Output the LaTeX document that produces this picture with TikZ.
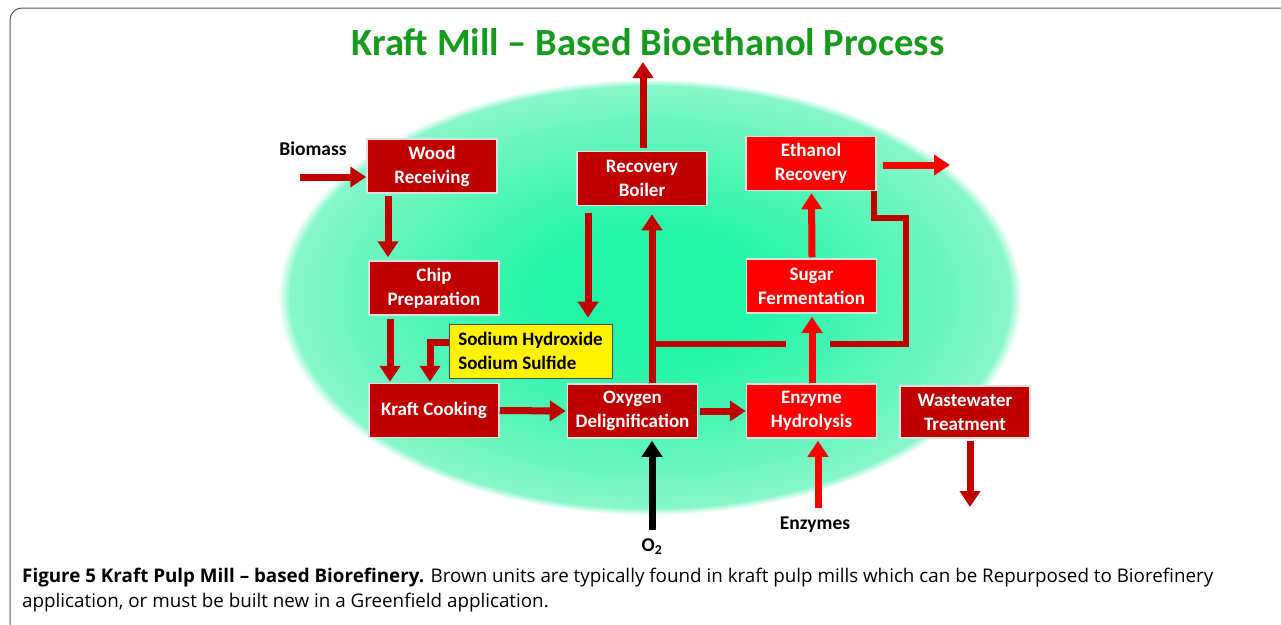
\documentclass[tikz,border=0pt]{standalone}
\usepackage{fontspec}
\setmainfont{Carlito}
\newfontfamily\capfont[Ligatures=TeX]{Open Sans}
\usetikzlibrary{arrows.meta}
\definecolor{dred}{RGB}{192,0,0}
\definecolor{bred}{RGB}{255,0,0}
\definecolor{ttl}{RGB}{22,155,30}
\definecolor{gc}{RGB}{32,245,168}
\definecolor{gm}{RGB}{90,245,186}
\definecolor{ge}{RGB}{135,246,203}
\definecolor{frame}{RGB}{90,90,90}
\pgfdeclareradialshading{glow}{\pgfpoint{0bp}{0bp}}{color(0bp)=(gc); color(7bp)=(gc); color(17bp)=(gm); color(24.2bp)=(ge); color(25bp)=(white); color(50bp)=(white)}
\tikzset{
  unit/.style={draw=white!88!black, line width=1.5pt, minimum width=130pt, minimum height=54pt,
    align=center, text=white, font=\bfseries\fontsize{19}{24}\selectfont, inner sep=0pt},
  brownunit/.style={unit, fill=dred},
  redunit/.style={unit, fill=bred},
  flow/.style={line width=7pt, -{Triangle[width=20pt,length=16pt]}},
  pipe/.style={line width=6pt},
  lbl/.style={font=\bfseries\fontsize{19.5}{22}\selectfont, text=black, inner sep=0pt}
}
\begin{document}
\begin{tikzpicture}[x=1pt,y=-1pt]
\useasboundingbox (0,0) rectangle (1281,624);
\begin{scope}
\clip (0,0) rectangle (1281,624);
\fill[white] (0,0) rectangle (1281,624);
\draw[frame, line width=1pt, rounded corners=12pt] (10,8) rectangle (1300,660);
\end{scope}
% glow
\shade[shading=glow] (650,297) ellipse[x radius=372, y radius=218];
% title
\node[font=\bfseries\fontsize{38.5}{44}\selectfont, text=ttl] (title) at (648,42) {Kraft Mill – Based Bioethanol Process};
% units
\node[brownunit] (wood) at (432,166) {Wood\\Receiving};
\node[brownunit] (boiler) at (642,178.5) {Recovery\\Boiler};
\node[redunit] (ethanol) at (811,163.5) {Ethanol\\Recovery};
\node[brownunit] (chip) at (434,288) {Chip\\Preparation};
\node[redunit] (sugar) at (811.5,286) {Sugar\\Fermentation};
\node[draw=black!70, line width=1pt, fill=yellow, minimum width=163pt, minimum height=54pt, inner sep=0pt,
  align=left, font=\bfseries\fontsize{19}{24}\selectfont] (chem) at (530.5,351) {Sodium Hydroxide\\Sodium Sulfide};
\node[brownunit] (kraft) at (434,410.5) {Kraft Cooking};
\node[brownunit] (oxy) at (632.5,411) {Oxygen\\Delignification};
\node[redunit] (enz) at (811.5,411) {Enzyme\\Hydrolysis};
\node[brownunit, minimum height=52pt] (ww) at (965,412) {Wastewater\\Treatment};
% labels
\node[lbl] (biomass) at (313,149) {Biomass};
\node[lbl] (o2) at (652,547) {O\textsubscript{2}};
\node[lbl] (enzl) at (815,525) {Enzymes};
% free-end coordinates
\coordinate (bm) at (300,177);
\coordinate (stack) at (643,62);
\coordinate (etout) at (950,165);
\coordinate (wwout) at (970,507);
\coordinate (j1) at (652,344);
\coordinate (j2) at (786,344);
\coordinate (o2s) at (652,530);
\coordinate (enzs) at (818,508);
\coordinate (l1) at (874,191);
\coordinate (l2) at (874,218);
\coordinate (l3) at (906,218);
\coordinate (l4) at (906,344);
\coordinate (l5) at (830,344);
% arrows
\draw[flow, dred] (bm) -- (bm -| wood.west);
\draw[flow, dred] ([shift={(-44,2)}]wood.south) -- ([shift={(-46,-3)}]chip.north);
\draw[flow, dred] ([shift={(-44,3)}]chip.south) -- ([shift={(-44,-1)}]kraft.north);
\draw[flow, dred] ([shift={(0,-9)}]chem.west) -| ([shift={(-4,-1)}]kraft.north);
\draw[flow, dred] (kraft.east) -- ([shift={(-1,0)}]oxy.west);
\draw[flow, dred] ([shift={(2,0)}]oxy.east) -- (enz.west);
\draw[flow, black] (o2s) -- ([shift={(19.5,2)}]oxy.south);
\draw[flow, bred] (enzs) -- ([shift={(6.5,2)}]enz.south);
\draw[flow, dred] ([shift={(1,-3)}]boiler.north) -- (stack);
\draw[flow, dred] ([shift={(-54,7)}]boiler.south) -- ([shift={(57.5,-6)}]chem.north);
\draw[flow, dred] ([shift={(19.5,0)}]oxy.north) -- ([shift={(10,8)}]boiler.south);
\draw[pipe, dred] ([shift={(-3,0)}]j1) -- (j2);
\draw[flow, bred] ([shift={(0.5,0)}]enz.north) -- ([shift={(0.5,3)}]sugar.south);
\draw[flow, bred] ([shift={(0.5,-1)}]sugar.north) -- ([shift={(0.5,2)}]ethanol.south);
\draw[flow, bred] ([shift={(6,1.5)}]ethanol.east) -- (etout);
\draw[pipe, dred, line join=miter] (l1) -- (l2) -- (l3) -- (l4) -- (l5);
\draw[flow, dred] ([shift={(5,2)}]ww.south) -- (wwout);
% caption
\node[anchor=base west, inner sep=0pt, align=left, font=\capfont\fontsize{18.8}{25}\selectfont] (cap) at (22,607)
 {\textbf{Figure 5 Kraft Pulp Mill – based Biorefinery.} Brown units are typically found in kraft pulp mills which can be Repurposed to Biorefinery\\application, or must be built new in a Greenfield application.};
\end{tikzpicture}
\end{document}
